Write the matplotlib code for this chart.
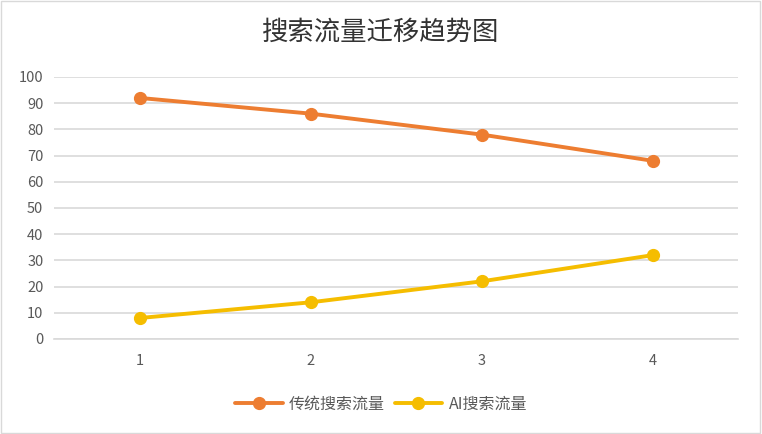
import matplotlib.pyplot as plt
from matplotlib.patches import Rectangle

plt.rcParams['font.family'] = ['Noto Sans CJK SC', 'DejaVu Sans']

categories = [1, 2, 3, 4]
traditional = [92, 86, 78, 68]
ai_search = [8, 14, 22, 32]
yticks = list(range(0, 101, 10))

fig = plt.figure(figsize=(7.62, 4.34), dpi=100)
ax = fig.add_axes([0.0715, 0.219, 0.8975, 0.6036])

ax.plot(categories, traditional, color='#ED7D31', linewidth=2.8, marker='o',
        markersize=8.5, label='传统搜索流量', solid_capstyle='round')
ax.plot(categories, ai_search, color='#F5BD00', linewidth=2.8, marker='o',
        markersize=8.5, label='AI搜索流量', solid_capstyle='round')

ax.set_xlim(0.5, 4.5)
ax.set_ylim(0, 100)
ax.set_xticks(categories)
ax.set_yticks(yticks)
ax.grid(axis='y', color='#d9d9d9', linewidth=1.2)
ax.set_axisbelow(True)
for s in ['top', 'right', 'left']:
    ax.spines[s].set_visible(False)
ax.spines['bottom'].set_color('#d9d9d9')
ax.spines['bottom'].set_linewidth(1.2)
ax.tick_params(length=0, labelsize=10.5, labelcolor='#595959', pad=8)
ax.tick_params(axis='x', pad=11)

fig.text(0.5, 0.925, '搜索流量迁移趋势图', ha='center', va='center',
         fontsize=19, color='#333333')

fig.legend(loc='center', bbox_to_anchor=(0.5, 0.069), ncol=2, frameon=False,
           fontsize=11.5, handlelength=3, columnspacing=0.6, handletextpad=0.4,
           labelcolor='#595959')

fig.patches.append(Rectangle((0.001, 0.002), 0.997, 0.995, transform=fig.transFigure,
                             fill=False, edgecolor='#d9d9d9', linewidth=1))

fig.savefig('out.png', dpi=100)
